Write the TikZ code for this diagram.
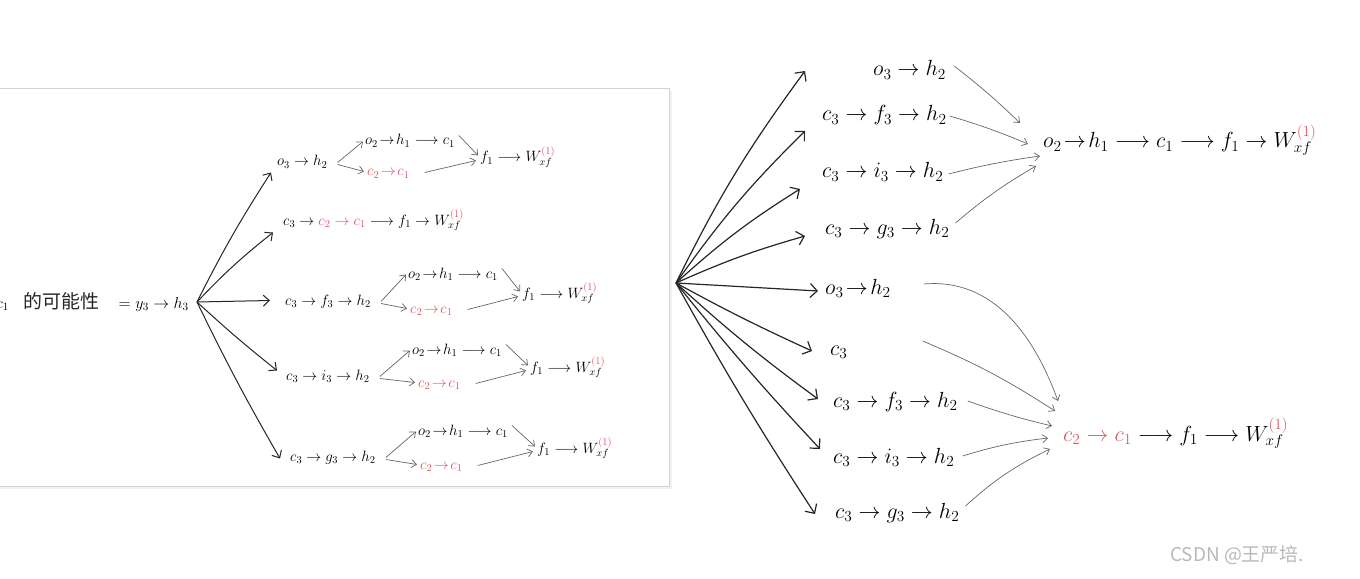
\RequirePackage{fix-cm}
\documentclass[tikz,border=0pt]{standalone}
\usepackage{fontspec}
\newfontfamily\cjk{Noto Sans CJK SC}
\usetikzlibrary{arrows.meta,calc}
\definecolor{hred}{RGB}{222,88,100}
\newcommand{\rc}[1]{\textcolor{hred}{#1}}
\newcommand{\Wx}{W_{xf}^{\rc{(1)}}}
\newcommand{\ttto}{\mathrel{\mkern-3mu\to\mkern-3mu}}
\tikzset{
  lt/.style={inner sep=0pt, anchor=base west, font=\fontsize{15}{17}\selectfont, text height=11bp, text depth=4bp},
  rt/.style={inner sep=0pt, anchor=base west, font=\fontsize{22}{24}\selectfont, text height=16bp, text depth=6bp},
  fan/.style={draw=black!85, line width=1.2bp, -{Straight Barb[length=7bp,width=14bp]}},
  lfan/.style={draw=black!85, line width=1bp, -{Straight Barb[length=6bp,width=11bp]}},
  merge/.style={draw=black!60, line width=0.7bp, -{Straight Barb[length=5bp,width=8bp]}}
}
\begin{document}
\begin{tikzpicture}[x=1bp,y=-1bp]
\useasboundingbox (0,0) rectangle (1360,579);
% pasted panel
\fill[black!5] (-5,91) rectangle (672,489);
\draw[black!18, fill=white] (-5,88) rectangle (669,486);

% ---------- left panel ----------
\coordinate (LO) at (197,302);
\node[lt, anchor=base east, font=\fontsize{16}{18}\selectfont] (L0) at (189,308) {$c_1$\hspace{15bp}{\cjk\fontsize{19}{21}\selectfont\color{black!85}的可能性}\hspace{19bp}$= y_3\to h_3$};

\node[lt] (H1) at (277,166) {$o_3\to h_2$};
\node[lt] (B2) at (283,225) {$c_3 \to \rc{c_2\to c_1} \longrightarrow f_1 \to \Wx$};
\node[lt] (H3) at (285,305) {$c_3\to f_3\to h_2$};
\node[lt] (H4) at (286,380) {$c_3\to i_3\to h_2$};
\node[lt] (H5) at (290,461) {$c_3\to g_3\to h_2$};

\draw[lfan] (LO) to[bend left=3] ($(H1.west)+(-6,10)$);
\draw[lfan] (LO) to[bend left=4] ($(B2.west)+(-10,11)$);
\draw[lfan] (LO) -- ($(H3.west)+(-15,-1)$);
\draw[lfan] (LO) to[bend right=2] ($(H4.west)+(-9,-6)$);
\draw[lfan] (LO) to[bend right=2] ($(H5.west)+(-10,1)$);

\foreach \k/\tx/\ty/\rx/\ry/\fx/\fy in {1/365/145/367/176/480/162, 3/408/278/410/313/522/298, 4/412/354/418/387/530/372, 5/418/435/420/469/537/453}{
  \node[lt] (T\k) at (\tx,\ty) {$o_2\ttto h_1 \longrightarrow c_1$};
  \node[lt] (R\k) at (\rx,\ry) {$\rc{c_2\ttto c_1}$};
  \node[lt] (F\k) at (\fx,\fy) {$f_1 \longrightarrow \Wx$};
  \draw[merge] ($(H\k.east)+(10,0)$) -- ($(T\k.west)+(-2,0)$);
  \draw[merge] ($(H\k.east)+(10,2)$) -- ($(R\k.west)+(-3,-1)$);
  \draw[merge] ($(T\k.east)+(4,-6)$) -- ($(F\k.west)+(-2,-3)$);
  \draw[merge] ($(R\k.east)+(15,0)$) -- ($(F\k.west)+(-4,2)$);
}

% ---------- right part ----------
\coordinate (RO) at (676,283);
\node[rt] (R1) at (873,76) {$o_3\to h_2$};
\node[rt] (R2) at (822,121) {$c_3\to f_3\to h_2$};
\node[rt] (R3) at (822,178) {$c_3\to i_3\to h_2$};
\node[rt] (R4) at (825,234) {$c_3\to g_3\to h_2$};
\node[rt] (RT) at (1043,148) {$o_2\ttto h_1 \longrightarrow c_1 \longrightarrow f_1 \to \Wx$};

\node[rt] (R5) at (825,294) {$o_3\ttto h_2$};
\node[rt] (R6) at (830,355) {$c_3$};
\node[rt] (R7) at (833,407) {$c_3\to f_3\to h_2$};
\node[rt] (R8) at (833,463) {$c_3\to i_3\to h_2$};
\node[rt] (R9) at (835,518) {$c_3\to g_3\to h_2$};
\node[rt] (RB) at (1063,441) {$\rc{c_2\to c_1} \longrightarrow f_1 \longrightarrow \Wx$};

\draw[fan] (RO) to[bend left=5] ($(R1.west)+(-68,0)$);
\draw[fan] (RO) to[bend left=5] ($(R2.west)+(-17,15)$);
\draw[fan] (RO) to[bend left=5] ($(R3.west)+(-22,16)$);
\draw[fan] (RO) to[bend left=4] ($(R4.west)+(-20,7)$);
\draw[fan] (RO) -- ($(R5.west)+(-7,2)$);
\draw[fan] (RO) to[bend right=2] ($(R6.west)+(-18,1)$);
\draw[fan] (RO) to[bend right=3] ($(R7.west)+(-15,-3)$);
\draw[fan] (RO) to[bend right=2] ($(R8.west)+(-13,-9)$);
\draw[fan] (RO) to[bend right=2] ($(R9.west)+(-20,1)$);

\draw[merge] ($(R1.east)+(8,-5)$) to[bend left=3] ($(RT.west)+(-23,-20)$);
\draw[merge] ($(R2.east)+(3,0)$) to[bend left=3] ($(RT.west)+(-15,1)$);
\draw[merge] ($(R3.east)+(5,1)$) to[bend left=3] ($(RT.west)+(-3,13)$);
\draw[merge] ($(R4.east)+(6,-6)$) to[bend left=5] ($(RT.west)+(-7,23)$);

\draw[merge] ($(R5.east)+(33,-5)$) to[out=5,in=110] ($(RB.west)+(-5,-35)$);
\draw[merge] ($(R6.east)+(75,-9)$) to[bend left=5] ($(RB.west)+(-8,-25)$);
\draw[merge] ($(R7.east)+(10,-1)$) to[bend right=3] ($(RB.west)+(-11,-10)$);
\draw[merge] ($(R8.east)+(8,-2)$) to[bend left=5] ($(RB.west)+(-15,2)$);
\draw[merge] ($(R9.east)+(6,-7)$) to[bend left=8] ($(RB.west)+(-13,13)$);

% watermark
\node[anchor=base west, inner sep=0pt, text=black!28, font=\cjk\fontsize{19}{21}\selectfont] (wm) at (1170,561) {CSDN @王严培.};
\end{tikzpicture}
\end{document}
